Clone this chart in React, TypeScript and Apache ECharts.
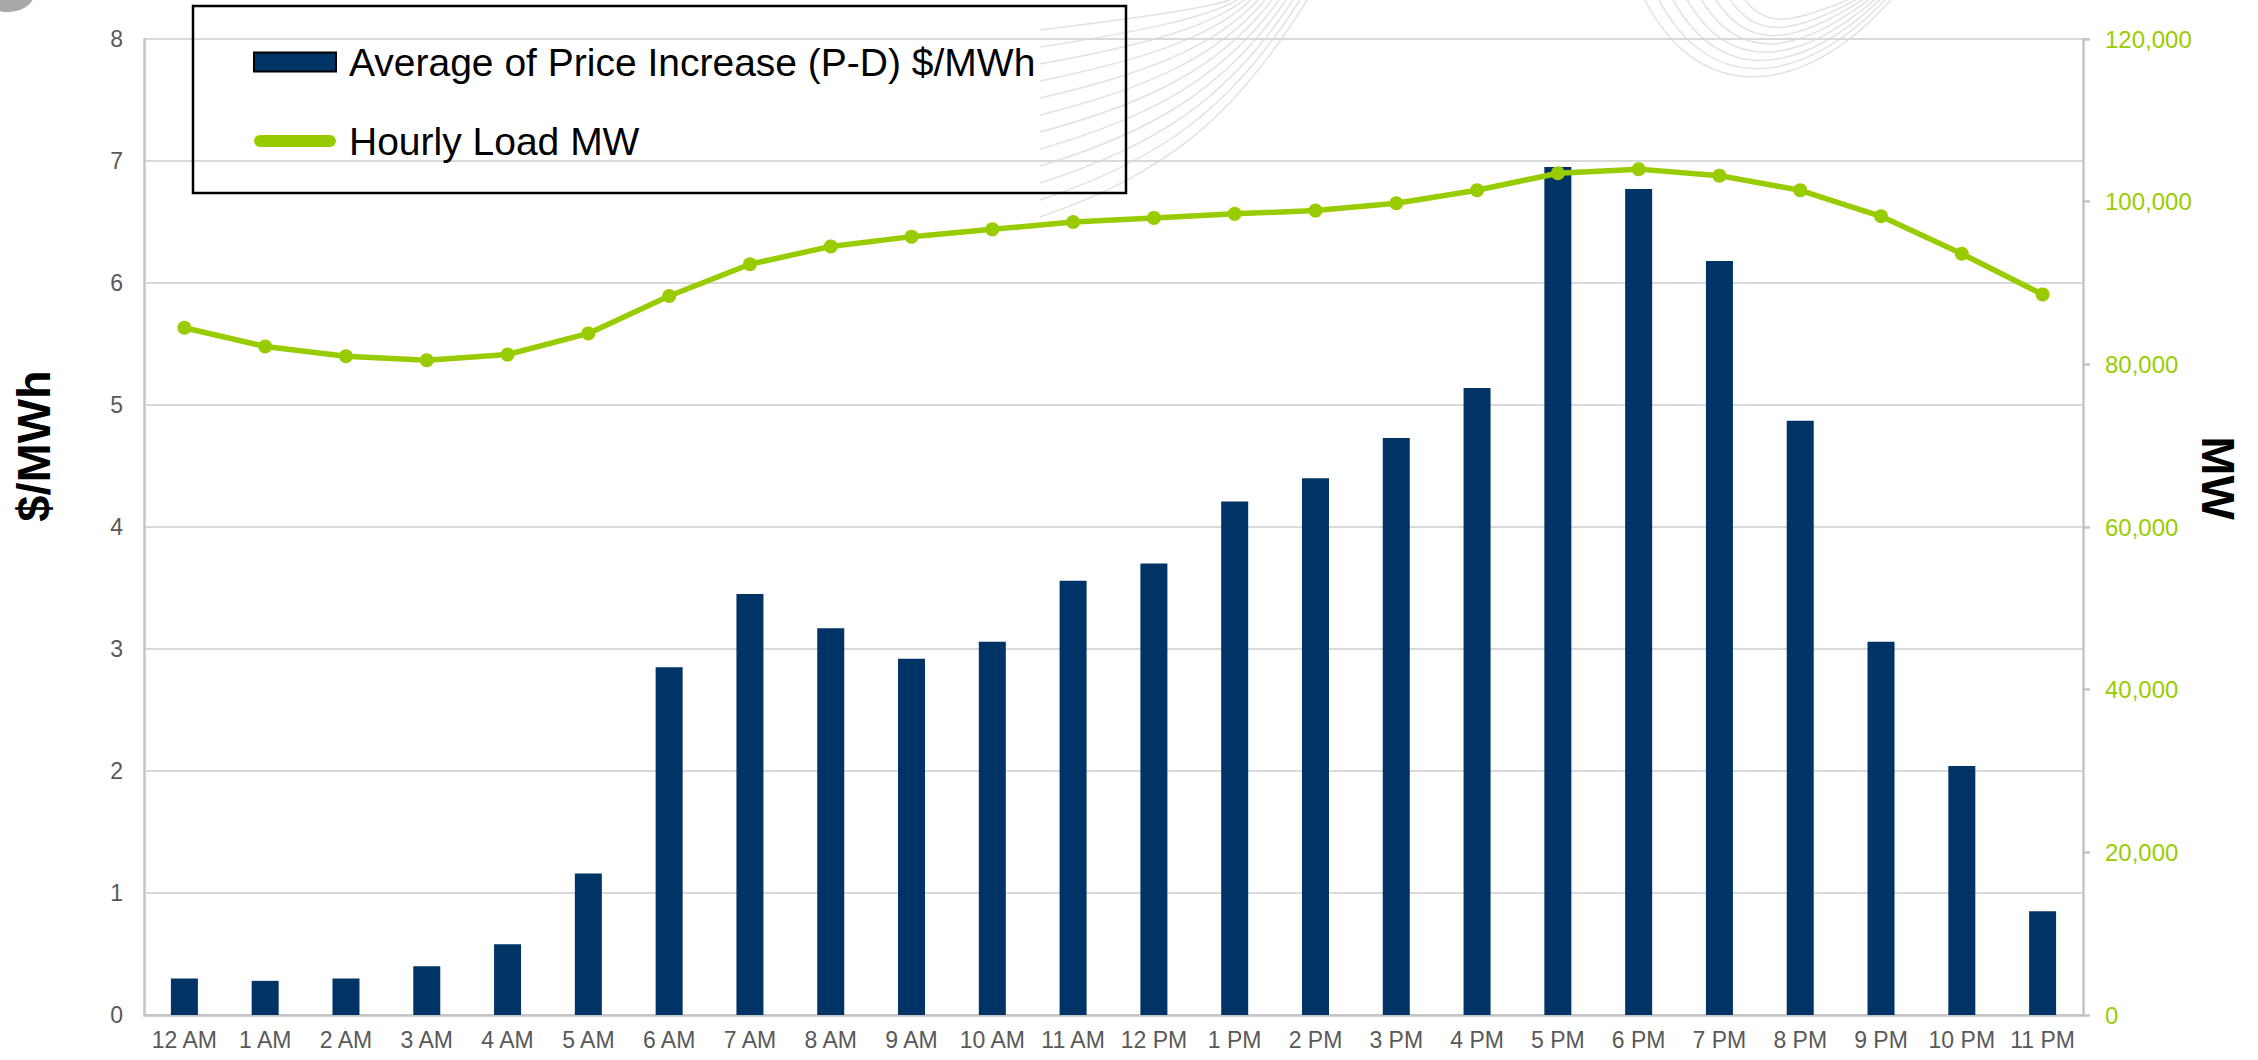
import React, { useEffect, useRef } from "react";
import * as echarts from "echarts";

const hours = [
  "12 AM", "1 AM", "2 AM", "3 AM", "4 AM", "5 AM", "6 AM", "7 AM", "8 AM", "9 AM", "10 AM", "11 AM",
  "12 PM", "1 PM", "2 PM", "3 PM", "4 PM", "5 PM", "6 PM", "7 PM", "8 PM", "9 PM", "10 PM", "11 PM",
];
const priceIncrease = [
  0.3, 0.28, 0.3, 0.4, 0.58, 1.16, 2.85, 3.45, 3.17, 2.92, 3.06, 3.56,
  3.7, 4.21, 4.4, 4.73, 5.14, 6.95, 6.77, 6.18, 4.87, 3.06, 2.04, 0.85,
];
const hourlyLoad = [
  84500, 82200, 81000, 80500, 81200, 83800, 88400, 92300, 94500, 95700, 96600, 97500,
  98000, 98500, 98900, 99800, 101400, 103500, 104000, 103200, 101400, 98200, 93600, 88600,
];
const seriesNames = ["Average of Price Increase (P-D) $/MWh", "Hourly Load MW"];
const leftAxisTitle = "$/MWh";
const rightAxisTitle = "MW";

const FONT = "'Liberation Sans', Arial, Helvetica, sans-serif";
const BAR_COLOR = "#003366";
const LINE_COLOR = "#99cc00";
const AXIS_GRAY = "#c4c4c4";

function decorCurves() {
  const els: any[] = [];
  const stroke = { stroke: "#e2e2e2", lineWidth: 1.5, fill: null };
  for (let i = 0; i < 12; i++) {
    els.push({
      type: "bezierCurve",
      silent: true,
      z: -10,
      shape: {
        x1: 1040,
        y1: 30 + i * 17,
        cpx1: 1120 + i * 4,
        cpy1: 20 + i * 14,
        cpx2: 1200 + i * 3,
        cpy2: 10 + i * 10,
        x2: 1230 + i * 7,
        y2: 0,
      },
      style: stroke,
    });
  }
  for (let i = 0; i < 8; i++) {
    els.push({
      type: "bezierCurve",
      silent: true,
      z: -10,
      shape: {
        x1: 1640 + i * 14,
        y1: -10,
        cpx1: 1695 + i * 10,
        cpy1: 110 - i * 11,
        cpx2: 1805 - i * 2,
        cpy2: 100 - i * 11,
        x2: 1895 - i * 5,
        y2: -5,
      },
      style: stroke,
    });
  }
  return els;
}

export default function App() {
  const ref = useRef<HTMLDivElement>(null);

  useEffect(() => {
    document.body.style.margin = "0";
    const chart = echarts.init(ref.current!, null, { renderer: "svg" });
    const option: any = {
      animation: false,
      backgroundColor: "#ffffff",
      textStyle: { fontFamily: FONT },
      grid: { left: 144, right: 175, top: 39, bottom: 45, containLabel: false },
      legend: {
        orient: "vertical",
        left: 253,
        top: 39,
        padding: 0,
        itemGap: 33,
        itemWidth: 82,
        itemHeight: 19,
        selectedMode: false,
        textStyle: {
          fontFamily: FONT,
          fontSize: 39,
          color: "#000000",
          lineHeight: 46,
          padding: [0, 0, 0, 8],
        },
        data: [
          {
            name: seriesNames[0],
            icon: "rect",
            itemStyle: { color: BAR_COLOR, borderColor: "#000000", borderWidth: 2 },
          },
          {
            name: seriesNames[1],
            icon: "path://M6,0 H76 A6,6 0 0 1 76,12 H6 A6,6 0 0 1 6,0 Z",
            itemStyle: { color: LINE_COLOR, borderWidth: 0 },
          },
        ],
      },
      xAxis: {
        type: "category",
        data: hours,
        axisLine: { show: true, lineStyle: { color: AXIS_GRAY, width: 2.5 } },
        axisTick: { show: false },
        axisLabel: {
          interval: 0,
          color: "#595959",
          fontSize: 23,
          fontFamily: FONT,
          margin: 13,
        },
        splitLine: { show: false },
      },
      yAxis: [
        {
          type: "value",
          min: 0,
          max: 8,
          interval: 1,
          position: "left",
          axisLine: { show: true, lineStyle: { color: AXIS_GRAY, width: 2.5 } },
          axisTick: { show: false },
          axisLabel: { color: "#595959", fontSize: 23, fontFamily: FONT, margin: 21 },
          splitLine: { show: true, lineStyle: { color: "#d9d9d9", width: 2 } },
        },
        {
          type: "value",
          min: 0,
          max: 120000,
          interval: 20000,
          position: "right",
          axisLine: { show: true, lineStyle: { color: AXIS_GRAY, width: 2.5 } },
          axisTick: { show: true, inside: false, length: 7, lineStyle: { color: AXIS_GRAY, width: 2.5 } },
          axisLabel: {
            color: LINE_COLOR,
            fontSize: 24,
            fontFamily: FONT,
            margin: 22,
            formatter: (v: number) => v.toLocaleString("en-US"),
          },
          splitLine: { show: false },
        },
      ],
      series: [
        {
          name: seriesNames[0],
          type: "bar",
          yAxisIndex: 0,
          data: priceIncrease,
          barWidth: 27,
          itemStyle: { color: BAR_COLOR },
          z: 2,
        },
        {
          name: seriesNames[1],
          type: "line",
          yAxisIndex: 1,
          data: hourlyLoad,
          symbol: "circle",
          symbolSize: 14,
          lineStyle: { color: LINE_COLOR, width: 5.5 },
          itemStyle: { color: LINE_COLOR, borderWidth: 0 },
          z: 3,
        },
      ],
      graphic: [
        ...decorCurves(),
        {
          type: "ellipse",
          silent: true,
          z: -5,
          shape: { cx: 8, cy: -6, rx: 26, ry: 18 },
          style: { fill: "#a8a8a8" },
        },
        {
          type: "rect",
          silent: true,
          z: 10,
          shape: { x: 193, y: 6, width: 933, height: 187 },
          style: { fill: null, stroke: "#000000", lineWidth: 2.5 },
        },
        {
          type: "text",
          silent: true,
          x: 33,
          y: 446,
          rotation: Math.PI / 2,
          style: {
            text: leftAxisTitle,
            fontFamily: FONT,
            fontSize: 47,
            fontWeight: "bold",
            fill: "#000000",
            align: "center",
            verticalAlign: "middle",
          },
        },
        {
          type: "text",
          silent: true,
          x: 2218,
          y: 478,
          rotation: -Math.PI / 2,
          style: {
            text: rightAxisTitle,
            fontFamily: FONT,
            fontSize: 47,
            fontWeight: "bold",
            fill: "#000000",
            align: "center",
            verticalAlign: "middle",
          },
        },
      ],
    };
    chart.setOption(option);
    return () => chart.dispose();
  }, []);

  return (
    <div
      ref={ref}
      style={{ position: "fixed", left: 0, top: 0, width: 2258, height: 1060 }}
    />
  );
}
